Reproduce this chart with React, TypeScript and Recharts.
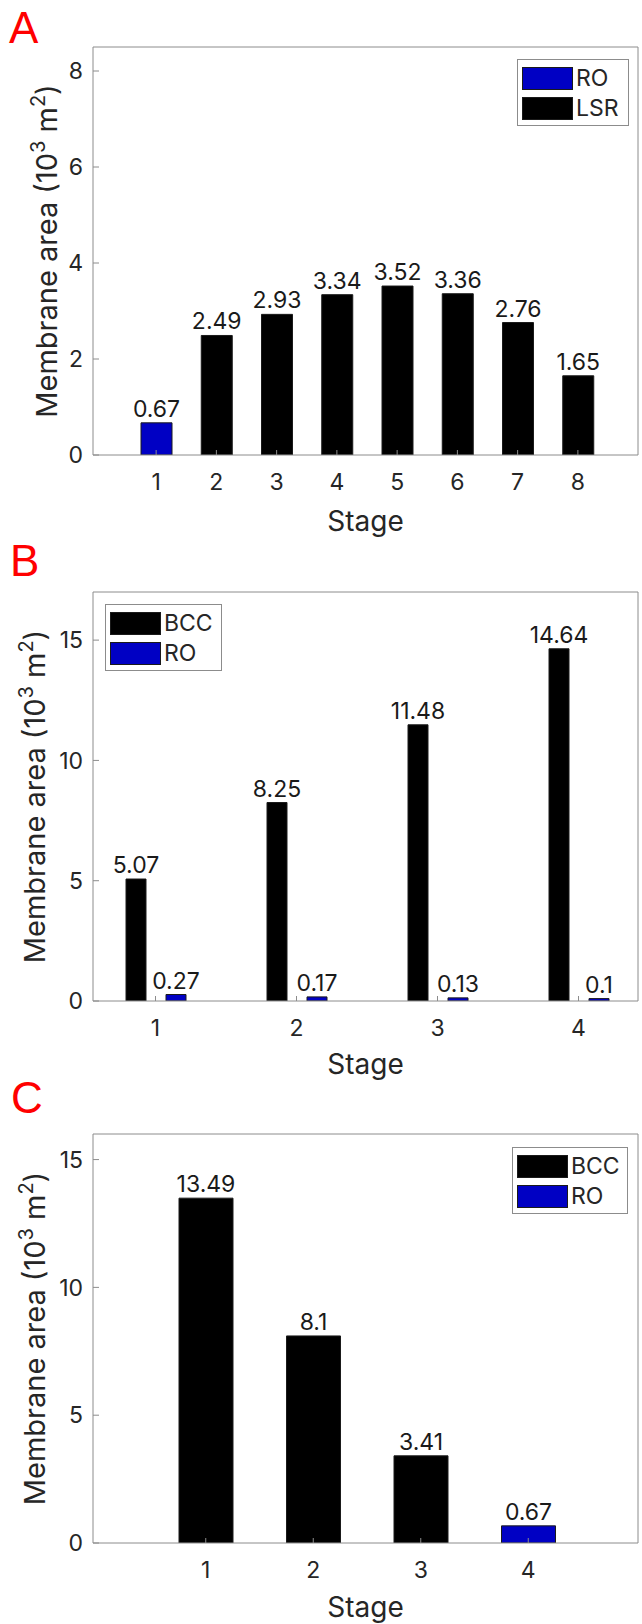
import React from 'react';
import { BarChart, Bar, XAxis, YAxis, Legend, LabelList } from 'recharts';

// panel A: membrane area per stage
const stagesA = ['1', '2', '3', '4', '5', '6', '7', '8'];
const roA = [0.67, null, null, null, null, null, null, null];
const lsrA = [null, 2.49, 2.93, 3.34, 3.52, 3.36, 2.76, 1.65];
const ticksA = [0, 2, 4, 6, 8];

// panel B
const stagesB = ['1', '2', '3', '4'];
const bccB = [5.07, 8.25, 11.48, 14.64];
const roB = [0.27, 0.17, 0.13, 0.1];
const ticksB = [0, 5, 10, 15];

// panel C
const stagesC = ['1', '2', '3', '4'];
const bccC = [13.49, 8.1, 3.41, null];
const roC = [null, null, null, 0.67];
const ticksC = [0, 5, 10, 15];

const BLUE = '#0000c4';
const BLACK = '#000000';
const AXIS = '#8c8c8c';
const TEXT = '#262626';
const FONT = 'Inter, "Liberation Sans", Arial, sans-serif';
const LETTER_FONT = '"Liberation Sans", Arial, sans-serif';

const dataA = stagesA.map((s, i) => ({ stage: s, RO: roA[i], LSR: lsrA[i] }));
const dataB = stagesB.map((s, i) => ({ stage: s, BCC: bccB[i], RO: roB[i] }));
const dataC = stagesC.map((s, i) => ({ stage: s, BCC: bccC[i], RO: roC[i] }));

type Series = { key: string; color: string };

const LegendBox = ({ items, w, h }: { items: Series[]; w: number; h: number }) => (
  <div
    style={{
      position: 'relative',
      width: w,
      height: h,
      boxSizing: 'border-box',
      border: `1px solid ${AXIS}`,
      background: '#fff',
      fontFamily: FONT,
    }}
  >
    {items.map((it, i) => (
      <React.Fragment key={it.key}>
        <div
          style={{
            position: 'absolute',
            left: 4,
            top: 7 + i * 30,
            width: 51,
            height: 23,
            boxSizing: 'border-box',
            background: it.color,
            border: '1px solid #1a1a1a',
          }}
        />
        <div
          style={{
            position: 'absolute',
            left: 58,
            top: 7 + i * 30,
            height: 23,
            lineHeight: '23px',
            fontSize: 23,
            color: TEXT,
          }}
        >
          {it.key}
        </div>
      </React.Fragment>
    ))}
  </div>
);

type PanelCfg = {
  letter: string;
  letterX: number;
  letterY: number;
  top: number;
  height: number;
  margin: { top: number; right: number; bottom: number; left: number };
  data: any[];
  series: Series[];
  stack: boolean;
  barSize: number;
  barGap?: number;
  padding: { left: number; right: number };
  yMax: number;
  yTicks: number[];
  legend: { x: number; y: number; w: number; h: number };
  yLabelX: number;
  stageY: number;
};

// plot box: left 93 (margin.left + 60), right 638 (642 - margin.right - 1)
const panels: PanelCfg[] = [
  {
    letter: 'A',
    letterX: 9,
    letterY: 43,
    top: 0,
    height: 540,
    margin: { top: 46, right: 3, bottom: 45, left: 33 },
    data: dataA,
    series: [
      { key: 'RO', color: BLUE },
      { key: 'LSR', color: BLACK },
    ],
    stack: true,
    barSize: 31,
    padding: { left: 33, right: 30 },
    yMax: 8.5,
    yTicks: ticksA,
    legend: { x: 517, y: 59, w: 112, h: 67 },
    yLabelX: 57,
    stageY: 531,
  },
  {
    letter: 'B',
    letterX: 10,
    letterY: 576,
    top: 540,
    height: 540,
    margin: { top: 51, right: 3, bottom: 39, left: 33 },
    data: dataB,
    series: [
      { key: 'BCC', color: BLACK },
      { key: 'RO', color: BLUE },
    ],
    stack: false,
    barSize: 20,
    barGap: 20,
    padding: { left: -8, right: -11 },
    yMax: 17,
    yTicks: ticksB,
    legend: { x: 105, y: 64, w: 117, h: 67 },
    yLabelX: 45,
    stageY: 1074,
  },
  {
    letter: 'C',
    letterX: 11,
    letterY: 1113,
    top: 1080,
    height: 544,
    margin: { top: 53, right: 3, bottom: 41, left: 33 },
    data: dataC,
    series: [
      { key: 'BCC', color: BLACK },
      { key: 'RO', color: BLUE },
    ],
    stack: true,
    barSize: 54,
    padding: { left: 59, right: 56 },
    yMax: 16,
    yTicks: ticksC,
    legend: { x: 512, y: 67, w: 116, h: 67 },
    yLabelX: 45,
    stageY: 1617,
  },
];

const Panel = ({ p }: { p: PanelCfg }) => {
  const tickFont = { fontSize: 23, fill: TEXT, fontFamily: FONT };
  return (
    <div style={{ position: 'absolute', left: 0, top: p.top, width: 642, height: p.height }}>
      <BarChart width={642} height={p.height} data={p.data} margin={p.margin} barGap={p.barGap ?? 4}>
        <XAxis
          xAxisId="b"
          dataKey="stage"
          padding={p.padding}
          stroke={AXIS}
          tickSize={-5}
          tickMargin={24}
          height={40}
          interval={0}
          tick={tickFont}
        />
        <XAxis
          xAxisId="t"
          dataKey="stage"
          orientation="top"
          padding={p.padding}
          stroke={AXIS}
          tickSize={-5}
          height={1}
          interval={0}
          tick={false}
        />
        <YAxis
          yAxisId="l"
          domain={[0, p.yMax]}
          ticks={p.yTicks}
          allowDataOverflow
          stroke={AXIS}
          tickSize={-6}
          tickMargin={16}
          width={60}
          interval={0}
          tick={tickFont}
        />
        <YAxis
          yAxisId="r"
          orientation="right"
          domain={[0, p.yMax]}
          ticks={p.yTicks}
          allowDataOverflow
          stroke={AXIS}
          tickSize={-6}
          width={1}
          interval={0}
          tick={false}
        />
        <Legend
          layout="vertical"
          align="center"
          verticalAlign="middle"
          wrapperStyle={{ left: p.legend.x, top: p.legend.y, width: p.legend.w, height: p.legend.h }}
          content={() => <LegendBox items={p.series} w={p.legend.w} h={p.legend.h} />}
        />
        {p.series.map((s) => (
          <Bar
            key={s.key}
            xAxisId="b"
            yAxisId="l"
            dataKey={s.key}
            fill={s.color}
            stroke="#1a1a1a"
            strokeWidth={1}
            stackId={p.stack ? 'stack' : undefined}
            barSize={p.barSize}
            isAnimationActive={false}
          >
            <LabelList
              dataKey={s.key}
              position="top"
              offset={6}
              style={{ fontSize: 23, fill: '#1a1a1a', fontFamily: FONT }}
            />
          </Bar>
        ))}
      </BarChart>
    </div>
  );
};

const Titles = () => (
  <svg
    width={642}
    height={1624}
    style={{ position: 'absolute', left: 0, top: 0, pointerEvents: 'none' }}
    fontFamily={FONT}
  >
    {panels.map((p) => {
      const plotTop = p.top + p.margin.top + 1;
      const plotBottom = p.top + p.height - p.margin.bottom - 40;
      const cy = (plotTop + plotBottom) / 2;
      const cx = (p.margin.left + 60 + 642 - p.margin.right - 1) / 2;
      return (
        <g key={p.letter}>
          <text x={p.letterX} y={p.letterY} fontSize={44} fill="#ff0000" fontFamily={LETTER_FONT}>
            {p.letter}
          </text>
          <text
            transform={`translate(${p.yLabelX},${cy}) rotate(-90)`}
            textAnchor="middle"
            fontSize={29}
            fill={TEXT}
          >
            Membrane area (10
            <tspan dy={-12} fontSize={20}>3</tspan>
            <tspan dy={12}> m</tspan>
            <tspan dy={-12} fontSize={20}>2</tspan>
            <tspan dy={12}>)</tspan>
          </text>
          <text x={cx} y={p.stageY} textAnchor="middle" fontSize={28} fill={TEXT}>
            Stage
          </text>
        </g>
      );
    })}
  </svg>
);

export default function App() {
  return (
    <div style={{ position: 'absolute', left: 0, top: 0, width: 642, height: 1624, background: '#fff' }}>
      {panels.map((p) => (
        <Panel key={p.letter} p={p} />
      ))}
      <Titles />
    </div>
  );
}
